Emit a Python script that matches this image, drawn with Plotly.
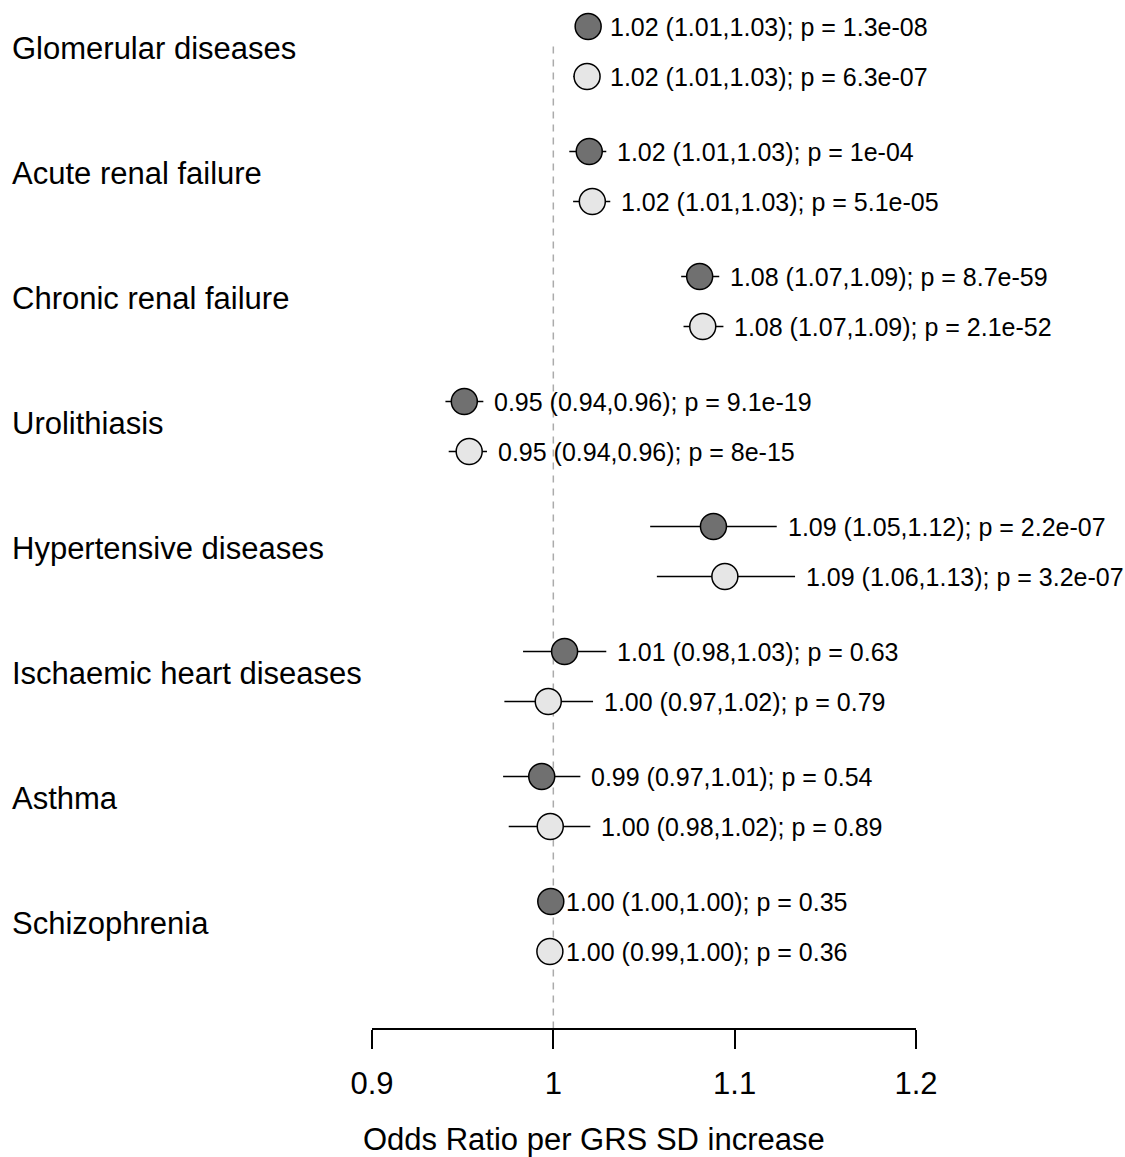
import plotly.graph_objects as go

# Outcomes, top to bottom
outcomes = [
    "Glomerular diseases",
    "Acute renal failure",
    "Chronic renal failure",
    "Urolithiasis",
    "Hypertensive diseases",
    "Ischaemic heart diseases",
    "Asthma",
    "Schizophrenia",
]

# Model A (dark markers): odds ratio, 95% CI, p-value
or_a = [1.0192, 1.0198, 1.0807, 0.9509, 1.0883, 1.0062, 0.9936, 0.9986]
lo_a = [1.0120, 1.0088, 1.0705, 0.9405, 1.0534, 0.9833, 0.9723, 0.9960]
hi_a = [1.0253, 1.0292, 1.0915, 0.9614, 1.1232, 1.0292, 1.0149, 1.0010]
p_a = ["1.3e-08", "1e-04", "8.7e-59", "9.1e-19", "2.2e-07", "0.63", "0.54", "0.35"]

# Model B (light markers)
or_b = [1.0186, 1.0215, 1.0824, 0.9536, 1.0946, 0.9972, 0.9983, 0.9981]
lo_b = [1.0110, 1.0109, 1.0718, 0.9423, 1.0571, 0.9730, 0.9754, 0.9940]
hi_b = [1.0253, 1.0314, 1.0938, 0.9634, 1.1333, 1.0219, 1.0204, 1.0010]
p_b = ["6.3e-07", "5.1e-05", "2.1e-52", "8e-15", "3.2e-07", "0.79", "0.89", "0.36"]

x_ticks = [0.9, 1.0, 1.1, 1.2]
x_ticklabels = ["0.9", "1", "1.1", "1.2"]
x_title = "Odds Ratio per GRS SD increase"

FONT = "Liberation Sans, Arial, sans-serif"
GROUP_STEP = 2.5  # vertical distance between outcome groups (row units)

y_a = [i * GROUP_STEP for i in range(len(outcomes))]
y_b = [i * GROUP_STEP + 1 for i in range(len(outcomes))]

fig = go.Figure()


def add_series(or_vals, lo_vals, hi_vals, ys, fill):
    fig.add_trace(go.Scatter(
        x=or_vals,
        y=ys,
        mode="markers",
        marker=dict(size=26, color=fill, line=dict(color="black", width=1.5)),
        error_x=dict(
            type="data",
            symmetric=False,
            array=[h - o for h, o in zip(hi_vals, or_vals)],
            arrayminus=[o - l for o, l in zip(or_vals, lo_vals)],
            width=0,
            thickness=1.5,
            color="black",
        ),
        cliponaxis=False,
        showlegend=False,
        hoverinfo="skip",
    ))


# Reference line at OR = 1
fig.add_shape(
    type="line", xref="x", yref="y",
    x0=1, x1=1, y0=0.4, y1=20.03,
    line=dict(color="#ababab", width=1.5, dash="7px,6px"),
    layer="below",
)

add_series(or_a, lo_a, hi_a, y_a, "#707070")
add_series(or_b, lo_b, hi_b, y_b, "#e6e6e6")

# Estimate labels to the right of each CI
for or_vals, lo_vals, hi_vals, pv, ys in (
    (or_a, lo_a, hi_a, p_a, y_a),
    (or_b, lo_b, hi_b, p_b, y_b),
):
    for o, l, h, p, y in zip(or_vals, lo_vals, hi_vals, pv, ys):
        fig.add_annotation(
            x=h, y=y, xref="x", yref="y",
            text=f"{o:.2f} ({l:.2f},{h:.2f}); p = {p}",
            showarrow=False, xanchor="left", yanchor="middle", xshift=9,
            font=dict(family=FONT, size=25, color="black"),
        )

# Outcome names on the left
for name, y in zip(outcomes, y_a):
    fig.add_annotation(
        x=0, y=y + 0.5, xref="paper", yref="y",
        text=name, showarrow=False, xanchor="left", yanchor="middle",
        xshift=-362, yshift=3,
        font=dict(family=FONT, size=31, color="black"),
    )

# X-axis title, centred on the full plotting region
fig.add_annotation(
    x=0.408, y=0, xref="paper", yref="paper",
    text=x_title, showarrow=False, xanchor="center", yanchor="middle",
    yshift=-111,
    font=dict(family=FONT, size=31, color="black"),
)

fig.update_layout(
    width=1125,
    height=1157,
    margin=dict(l=372, r=209, t=0, b=129),
    paper_bgcolor="white",
    plot_bgcolor="white",
    font=dict(family=FONT, color="black"),
    xaxis=dict(
        range=[0.9, 1.2],
        tickvals=x_ticks,
        ticktext=x_ticklabels,
        ticks="outside",
        ticklen=19,
        tickwidth=1.5,
        tickcolor="black",
        ticklabelstandoff=8,
        showline=True,
        linecolor="black",
        linewidth=1.5,
        showgrid=False,
        zeroline=False,
        tickfont=dict(family=FONT, size=31),
    ),
    yaxis=dict(
        range=[20.03, -0.53],
        visible=False,
        showgrid=False,
        zeroline=False,
    ),
)

fig.write_html("out.html")
